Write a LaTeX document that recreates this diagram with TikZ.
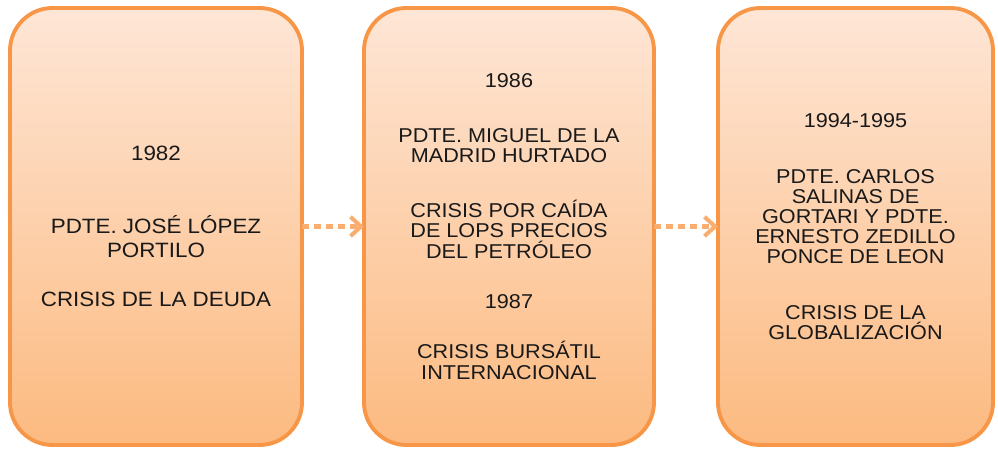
\documentclass[tikz,border=0pt]{standalone}
\usepackage{fontspec}
\setmainfont[FakeStretch=1.08]{Liberation Sans}
\usetikzlibrary{positioning, arrows.meta}
\definecolor{boxorange}{RGB}{247, 150, 70}
\definecolor{boxtop}{RGB}{254, 230, 214}
\definecolor{boxbottom}{RGB}{252, 186, 128}
\definecolor{arroworange}{RGB}{249, 174, 112}

\begin{document}
\begin{tikzpicture}[
  crisisbox/.style={
    draw=boxorange,
    line width=2.2pt,
    rounded corners=0.85cm,
    top color=boxtop,
    bottom color=boxbottom,
    minimum height=8.74cm,
    outer sep=0pt,
    align=center,
    text=black!90,
  },
  linkarrow/.style={
    draw=arroworange,
    line width=2.3pt,
    dash pattern=on 4pt off 2.8pt,
    -{Straight Barb[length=6pt, width=11pt]},
  }
]

  \useasboundingbox (0, 0) rectangle (19.96, 9);

  % === Timeline of crises ===
  % 1982 (left)
  \node[crisisbox, minimum width=5.84cm, font=\fontsize{11.8}{13.6}\selectfont] (c1982) at (3.12, 4.47)
    {1982\\[27.8pt] PDTE. JOSÉ LÓPEZ\\ PORTILO\\[14.7pt] CRISIS DE LA DEUDA};

  % 1986 / 1987 (center)
  \node[crisisbox, minimum width=5.8cm, font=\fontsize{11.4}{11.6}\selectfont, right=1.24cm of c1982] (c1986)
    {1986\\[19.5pt] PDTE. MIGUEL DE LA\\ MADRID HURTADO\\[19.5pt] CRISIS POR CAÍDA\\ DE LOPS PRECIOS\\ DEL PETRÓLEO\\[17pt] 1987\\[17pt] CRISIS BURSÁTIL\\ INTERNACIONAL};

  % 1994-1995 (right)
  \node[crisisbox, minimum width=5.5cm, font=\fontsize{11.4}{11.4}\selectfont, right=1.28cm of c1986] (c1994)
    {1994-1995\\[20.5pt] PDTE. CARLOS\\ SALINAS DE\\ GORTARI Y PDTE.\\ ERNESTO ZEDILLO\\ PONCE DE LEON\\[20pt] CRISIS DE LA\\ GLOBALIZACIÓN};

  % Dotted arrows between the boxes
  \draw[linkarrow] (c1982.east) -- (c1986.west);
  \draw[linkarrow] (c1986.east) -- (c1994.west);

\end{tikzpicture}
\end{document}
